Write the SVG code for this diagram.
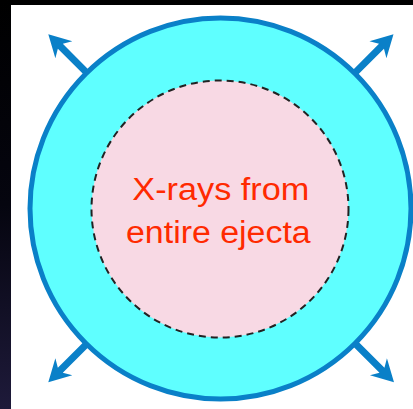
<svg xmlns="http://www.w3.org/2000/svg" width="413" height="409" viewBox="0 0 413 409">
  <defs>
    <linearGradient id="bg" x1="0" y1="0" x2="0" y2="1">
      <stop offset="0" stop-color="#000000"/>
      <stop offset="0.5" stop-color="#05050f"/>
      <stop offset="1" stop-color="#1e1a3a"/>
    </linearGradient>
    <path id="arrow" d="M0,0 L-22,12 L-17,3.5 L-62,3.5 L-62,-3.5 L-17,-3.5 L-22,-12 Z"/>
    <style>
      .arr { fill: #0a80c8; }
      .lbl { font-family: "Liberation Sans", Arial, sans-serif; font-size: 31px; fill: #ff2a00; }
    </style>
  </defs>
  <rect x="0" y="0" width="413" height="409" fill="url(#bg)"/>
  <rect x="11" y="5" width="402" height="404" fill="#ffffff"/>
  <g id="connectors">
    <use href="#arrow" class="arr" transform="translate(48.3,34.3) rotate(225)"/>
    <use href="#arrow" class="arr" transform="translate(393.5,34.3) rotate(315)"/>
    <use href="#arrow" class="arr" transform="translate(48.3,382.3) rotate(135)"/>
    <use href="#arrow" class="arr" transform="translate(394,382.3) rotate(45)"/>
  </g>
  <g id="shell">
    <circle cx="220.5" cy="208.5" r="190.5" fill="#5fffff" stroke="#0a80c8" stroke-width="5"/>
  </g>
  <g id="ejecta">
    <circle cx="220" cy="209" r="128.5" fill="#f8d9e4" stroke="#222222" stroke-width="2" stroke-dasharray="7 5"/>
    <text class="lbl" x="132.3" y="199.5" textLength="177" lengthAdjust="spacingAndGlyphs">X-rays from</text>
    <text class="lbl" x="126" y="243" textLength="184.7" lengthAdjust="spacingAndGlyphs">entire ejecta</text>
  </g>
</svg>
